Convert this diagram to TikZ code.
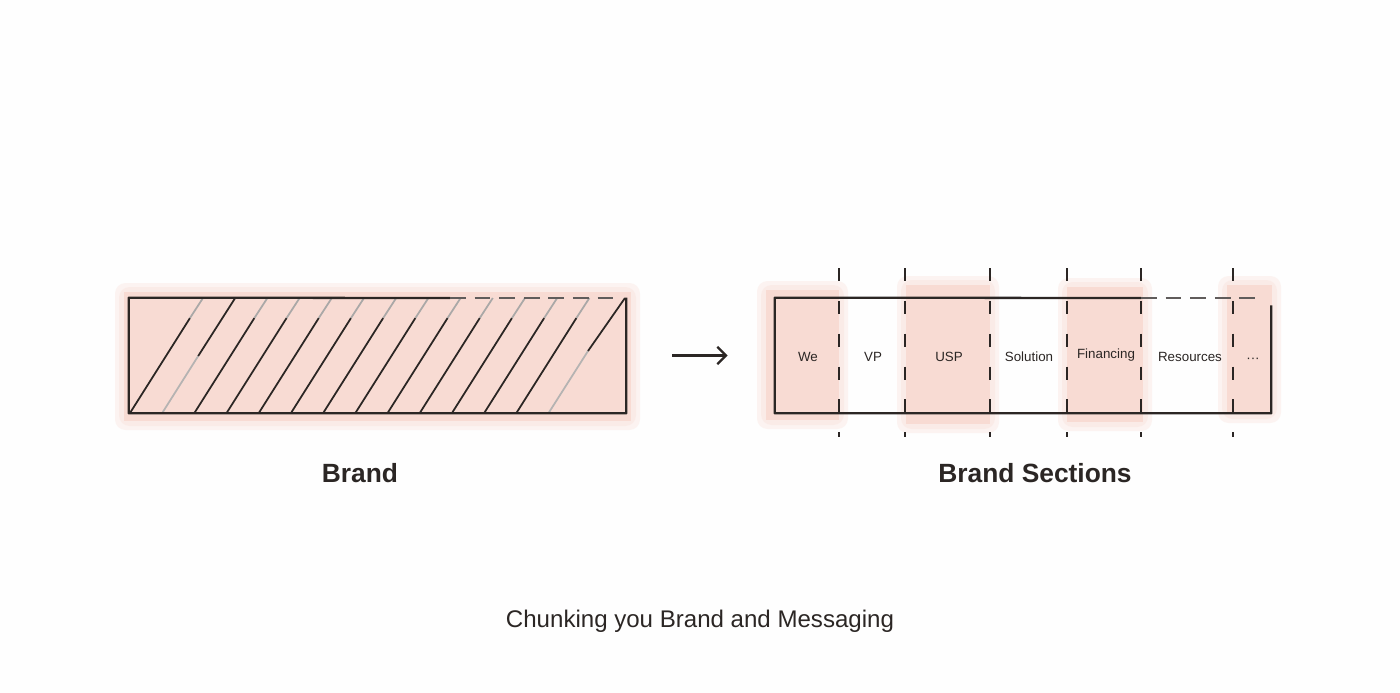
\documentclass[tikz,border=0pt]{standalone}
\usepackage{fontspec}
\setmainfont{Liberation Sans}
\usetikzlibrary{arrows.meta, positioning}
\definecolor{ink}{RGB}{43,38,36}
\definecolor{blush}{RGB}{248,219,211}
\definecolor{paper}{RGB}{254,254,254}
\tikzstyle{box} = [rectangle, 
minimum width=9.94cm, 
minimum height=2.3cm, 
inner sep=0pt]
\tikzstyle{glow} = [blush, opacity=0.3, rounded corners=6pt]
\tikzstyle{edge} = [ink, line width=1.3pt, line join=round]
\tikzstyle{faintedge} = [ink!75, line width=1pt, dash pattern=on 9pt off 5pt]
\tikzstyle{hatch} = [ink, line width=1pt]
\tikzstyle{cut} = [ink, line width=1.2pt, dash pattern=on 7.4pt off 11.3pt]
\tikzstyle{chunk} = [text=ink, font=\fontsize{7.6}{9}\selectfont]
\tikzstyle{title} = [text=ink, font=\fontsize{15}{18}\selectfont\bfseries]
\tikzstyle{caption} = [text=ink, font=\fontsize{13.7}{16}\selectfont]
\tikzstyle{arrow} = [ink, line width=1.3pt, -{Straight Barb[length=5pt, width=10pt]}]
\begin{document}
\begin{tikzpicture}[x=0.02cm, y=-0.02cm]
			
			\fill[paper] (0,0) rectangle (1400,693);
			\useasboundingbox (0,0) rectangle (1400,693);
			
			% pink washes
			\foreach \g in {9,5}{
				\fill[glow] (124-\g,292-\g) rectangle (631+\g,421+\g);
				\fill[glow] (766-\g,290-\g) rectangle (839+\g,420+\g);
				\fill[glow] (906-\g,285-\g) rectangle (990+\g,424+\g);
				\fill[glow] (1067-\g,287-\g) rectangle (1143+\g,422+\g);
				\fill[glow] (1227-\g,285-\g) rectangle (1272+\g,414+\g);
			}
			\fill[blush] (124,292) rectangle (631,421);
			\fill[blush] (766,290) rectangle (839,420);
			\fill[blush] (906,285) rectangle (990,424);
			\fill[blush] (1067,287) rectangle (1143,422);
			\fill[blush] (1227,285) rectangle (1272,414);
			
			\node (brand) [box] at (377.5,355.5) {};
			\node (sections) [box, minimum width=9.92cm] at (1023,355.5) {};
			
			% hatching (lines fade out near the top)
			\foreach \k in {0,2,3,...,12}{
				\draw [hatch] (130+32.2*\k,413) -- ++(60,-95);
				\draw [hatch, ink!40] (190+32.2*\k,318) -- ++(13,-20);
			}
			\draw [hatch, ink!35] (162.2,413) -- ++(36,-57);
			\draw [hatch] (198.2,356) -- (235.2,298);
			\draw [hatch, ink!35] (548.6,413) -- (588,351);
			\draw [hatch] (588,351) -- (625,298);
			
			% box outlines
			\draw [edge] (450,298) -- (brand.north west) -- (brand.south west) -- (brand.south east) -- (brand.north east);
			\draw [faintedge] (450,298) -- (618,298);
			\draw [edge] (1141,298) -- (sections.north west) -- (sections.south west) -- (sections.south east) -- ++(0,-108);
			\draw [faintedge] (1141,298) -- (1262,298);
			
			% cut lines
			\foreach \sx in {839,905,990,1067,1141,1233}
			\draw [cut] (\sx,268) -- (\sx,437);
			
			\node (we) [chunk] at (808,357) {We};
			\node (vp) [chunk] at (873,357) {VP};
			\node (usp) [chunk] at (949,357) {USP};
			\node (solution) [chunk] at (1029,357) {Solution};
			\node (financing) [chunk] at (1106,355) {Financing};
			\node (resources) [chunk] at (1190,357) {Resources};
			\node (more) [chunk] at (1253,360) {···};
			
			\node (brandlabel) [title] at (360,473) {Brand};
			\node (sectionslabel) [title] at (1035,473) {Brand Sections};
			\node (caption) [caption] at (700,621) {Chunking you Brand and Messaging};
			
			\draw [arrow, shorten <=0.92cm, shorten >=0.94cm] (brand.east) -- (sections.west);
			
		\end{tikzpicture}
\end{document}
